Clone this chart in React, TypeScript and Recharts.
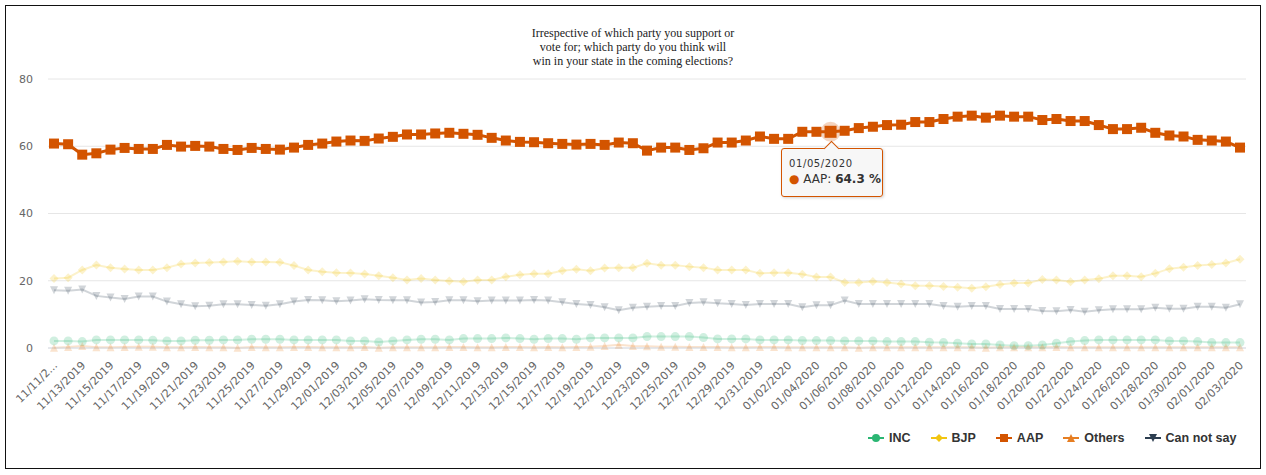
import { LineChart, Line, XAxis, YAxis, CartesianGrid, Tooltip } from "recharts";

const categories = [
  "11/11/2019", "11/12/2019", "11/13/2019", "11/14/2019", "11/15/2019", "11/16/2019", "11/17/2019",
  "11/18/2019", "11/19/2019", "11/20/2019", "11/21/2019", "11/22/2019", "11/23/2019", "11/24/2019",
  "11/25/2019", "11/26/2019", "11/27/2019", "11/28/2019", "11/29/2019", "11/30/2019",
  "12/01/2019", "12/02/2019", "12/03/2019", "12/04/2019", "12/05/2019", "12/06/2019", "12/07/2019",
  "12/08/2019", "12/09/2019", "12/10/2019", "12/11/2019", "12/12/2019", "12/13/2019", "12/14/2019",
  "12/15/2019", "12/16/2019", "12/17/2019", "12/18/2019", "12/19/2019", "12/20/2019", "12/21/2019",
  "12/22/2019", "12/23/2019", "12/24/2019", "12/25/2019", "12/26/2019", "12/27/2019", "12/28/2019",
  "12/29/2019", "12/30/2019", "12/31/2019",
  "01/01/2020", "01/02/2020", "01/03/2020", "01/04/2020", "01/05/2020", "01/06/2020", "01/07/2020",
  "01/08/2020", "01/09/2020", "01/10/2020", "01/11/2020", "01/12/2020", "01/13/2020", "01/14/2020",
  "01/15/2020", "01/16/2020", "01/17/2020", "01/18/2020", "01/19/2020", "01/20/2020", "01/21/2020",
  "01/22/2020", "01/23/2020", "01/24/2020", "01/25/2020", "01/26/2020", "01/27/2020", "01/28/2020",
  "01/29/2020", "01/30/2020", "01/31/2020",
  "02/01/2020", "02/02/2020", "02/03/2020",
];

const incValues = [
  2.1, 2.1, 1.9, 2.4, 2.4, 2.4, 2.4, 2.3, 2.1, 2.1,
  2.3, 2.3, 2.4, 2.4, 2.6, 2.6, 2.6, 2.4, 2.4, 2.4,
  2.4, 2.1, 2.1, 1.8, 2.1, 2.4, 2.6, 2.6, 2.4, 2.8,
  2.8, 2.8, 3.0, 2.8, 2.6, 2.8, 2.8, 2.6, 3.0, 3.0,
  3.0, 3.0, 3.4, 3.4, 3.4, 3.4, 3.1, 2.7, 2.7, 2.7,
  2.4, 2.4, 2.4, 2.2, 2.2, 2.2, 2.1, 2.1, 2.1, 1.9,
  1.9, 1.9, 1.7, 1.6, 1.4, 1.2, 1.2, 0.9, 0.7, 0.7,
  0.9, 1.4, 1.9, 2.2, 2.4, 2.4, 2.4, 2.4, 2.4, 2.1,
  2.1, 1.9, 1.6, 1.6, 1.6,
];

const bjpValues = [
  20.7, 20.9, 23.2, 24.7, 23.9, 23.5, 23.2, 23.2, 23.9, 25.0,
  25.3, 25.4, 25.6, 25.8, 25.6, 25.6, 25.5, 24.5, 23.2, 22.7,
  22.4, 22.3, 22.0, 21.5, 20.9, 20.2, 20.7, 20.2, 19.9, 19.7,
  20.2, 20.2, 21.2, 21.8, 22.1, 22.1, 23.0, 23.4, 23.0, 23.8,
  23.9, 23.9, 25.2, 24.6, 24.6, 24.2, 23.9, 23.2, 23.2, 23.2,
  22.2, 22.4, 22.4, 21.9, 21.1, 21.1, 19.5, 19.5, 19.8, 19.5,
  19.0, 18.5, 18.5, 18.3, 18.1, 17.8, 18.2, 18.9, 19.3, 19.3,
  20.4, 20.2, 19.7, 20.2, 20.6, 21.5, 21.5, 21.2, 22.2, 23.6,
  24.0, 24.5, 24.8, 25.3, 26.4,
];

const aapValues = [
  60.8, 60.6, 57.5, 57.9, 59.0, 59.5, 59.2, 59.2, 60.4, 59.9,
  60.1, 59.9, 59.2, 58.9, 59.5, 59.2, 59.0, 59.6, 60.4, 60.8,
  61.4, 61.7, 61.6, 62.3, 62.8, 63.5, 63.5, 63.8, 64.0, 63.7,
  63.4, 62.5, 61.7, 61.3, 61.2, 60.9, 60.7, 60.5, 60.7, 60.4,
  61.1, 60.9, 58.7, 59.6, 59.6, 58.9, 59.4, 61.1, 61.1, 61.7,
  62.9, 62.2, 62.2, 64.3, 64.3, 64.3, 64.6, 65.4, 65.8, 66.3,
  66.4, 67.2, 67.2, 68.1, 68.8, 69.1, 68.5, 69.1, 68.8, 68.8,
  67.8, 68.1, 67.5, 67.5, 66.3, 65.1, 65.1, 65.5, 64.0, 63.2,
  62.9, 61.9, 61.7, 61.4, 59.6,
];

const othersValues = [
  0.1, 0.3, 0.6, 0.2, 0.2, 0.3, 0.4, 0.4, 0.2, 0.2,
  0.3, 0.2, 0.2, 0.1, 0.3, 0.2, 0.2, 0.3, 0.3, 0.2,
  0.2, 0.2, 0.3, 0.1, 0.2, 0.2, 0.2, 0.2, 0.3, 0.3,
  0.2, 0.2, 0.3, 0.3, 0.2, 0.3, 0.2, 0.3, 0.4, 0.6,
  1.0, 0.6, 0.5, 0.4, 0.4, 0.3, 0.3, 0.3, 0.2, 0.2,
  0.3, 0.3, 0.2, 0.2, 0.2, 0.2, 0.2, 0.1, 0.2, 0.2,
  0.2, 0.2, 0.2, 0.2, 0.2, 0.2, 0.1, 0.2, 0.2, 0.2,
  0.2, 0.3, 0.2, 0.2, 0.2, 0.2, 0.2, 0.2, 0.2, 0.2,
  0.2, 0.2, 0.2, 0.2, 0.2,
];

const cantSayValues = [
  17.2, 17.0, 17.4, 15.5, 15.0, 14.6, 15.3, 15.3, 13.8, 13.0,
  12.4, 12.6, 13.0, 13.0, 12.8, 12.6, 13.0, 13.8, 14.3, 14.2,
  13.9, 14.1, 14.5, 14.3, 14.2, 14.2, 13.5, 13.7, 14.2, 14.2,
  13.9, 14.1, 14.1, 14.1, 14.3, 14.1, 13.6, 13.1, 12.8, 12.1,
  11.2, 12.0, 12.3, 12.5, 12.5, 13.4, 13.6, 13.3, 13.1, 12.8,
  13.1, 13.1, 13.1, 12.1, 12.7, 12.7, 14.1, 13.1, 13.1, 13.1,
  13.1, 13.1, 13.1, 12.5, 12.3, 12.5, 12.5, 11.6, 11.6, 11.6,
  11.0, 10.9, 11.3, 10.8, 11.2, 11.5, 11.5, 11.5, 12.0, 11.7,
  11.7, 12.3, 12.3, 12.0, 13.0,
];

const yTicks = [0, 20, 40, 60, 80];
const firstTickLabel = "11/11/2...";
const tooltipIndex = 55;

const COLORS = {
  INC: "#2bb673",
  BJP: "#f2c511",
  AAP: "#d35400",
  Others: "#e67e22",
  "Can not say": "#2c3e50",
};

const FADE = 0.22;
const FONT = "'DejaVu Sans', Verdana, sans-serif";

const data = categories.map((date, i) => ({
  date,
  INC: incValues[i],
  BJP: bjpValues[i],
  AAP: aapValues[i],
  Others: othersValues[i],
  "Can not say": cantSayValues[i],
}));

type Shape = "circle" | "diamond" | "square" | "triangle" | "triangle-down";

function marker(shape: Shape, cx: number, cy: number, color: string, s: number) {
  const h = s / 2;
  if (shape === "circle") return <circle cx={cx} cy={cy} r={h} fill={color} />;
  if (shape === "square")
    return <rect x={cx - h} y={cy - h} width={s} height={s} fill={color} />;
  if (shape === "diamond")
    return (
      <path
        d={`M${cx},${cy - h}L${cx + h},${cy}L${cx},${cy + h}L${cx - h},${cy}Z`}
        fill={color}
      />
    );
  if (shape === "triangle")
    return (
      <path d={`M${cx},${cy - h}L${cx + h},${cy + h}L${cx - h},${cy + h}Z`} fill={color} />
    );
  return (
    <path d={`M${cx - h},${cy - h}L${cx + h},${cy - h}L${cx},${cy + h}Z`} fill={color} />
  );
}

const makeDot = (name: string, shape: Shape, s: number, opacity: number) => (props: any) => {
  const { cx, cy, index } = props;
  if (cx == null || cy == null) return <g key={`${name}-${index}`} />;
  return (
    <g key={`${name}-${index}`} opacity={opacity}>
      {marker(shape, cx, cy, (COLORS as any)[name], s)}
    </g>
  );
};

const aapActiveDot = (props: any) => {
  const { cx, cy } = props;
  return (
    <g>
      <circle cx={cx} cy={cy} r={10} fill={COLORS.AAP} opacity={0.25} />
      <rect x={cx - 6} y={cy - 6} width={12} height={12} fill={COLORS.AAP} />
    </g>
  );
};

const XTick = (props: any) => {
  const { x, y, payload } = props;
  const label = payload.index === 0 ? firstTickLabel : payload.value;
  const tx = x + 4;
  const ty = y + 18;
  return (
    <text
      x={tx}
      y={ty}
      transform={`rotate(-45 ${tx} ${ty})`}
      textAnchor="end"
      fontSize={11}
      fill="#666"
      fontFamily={FONT}
    >
      {label}
    </text>
  );
};

const TooltipBox = (props: any) => {
  const { active, payload, label } = props;
  if (!active || !payload) return null;
  const item = payload.find((p: any) => p.dataKey === "AAP");
  if (!item) return null;
  return (
    <div style={{ position: "relative", paddingTop: 8 }}>
      <div
        style={{
          position: "relative",
          width: 85,
          background: "rgba(247,247,247,0.95)",
          border: `1px solid ${COLORS.AAP}`,
          borderRadius: 3,
          padding: "8px 8px 8px 7px",
          boxShadow: "1px 1px 3px rgba(0,0,0,0.18)",
          fontFamily: FONT,
          color: "#333",
        }}
      >
        <div
          style={{
            position: "absolute",
            top: -6,
            left: 44,
            width: 10,
            height: 10,
            transform: "rotate(45deg)",
            background: "rgb(247,247,247)",
            borderLeft: `1px solid ${COLORS.AAP}`,
            borderTop: `1px solid ${COLORS.AAP}`,
          }}
        />
        <div style={{ fontSize: 10, lineHeight: "14px", letterSpacing: 0.6 }}>{label}</div>
        <div style={{ fontSize: 12, lineHeight: "17px", whiteSpace: "nowrap" }}>
          <span style={{ color: COLORS.AAP }}>●</span> AAP: <b>{item.value} %</b>
        </div>
      </div>
    </div>
  );
};

const legendItems: { name: string; shape: Shape }[] = [
  { name: "INC", shape: "circle" },
  { name: "BJP", shape: "diamond" },
  { name: "AAP", shape: "square" },
  { name: "Others", shape: "triangle" },
  { name: "Can not say", shape: "triangle-down" },
];

function LegendRow() {
  return (
    <div
      style={{
        position: "absolute",
        left: 868,
        top: 430,
        width: 390,
        display: "flex",
        alignItems: "center",
        whiteSpace: "nowrap",
        fontFamily: "'Liberation Sans', Arial, sans-serif",
        fontWeight: "bold",
        fontSize: 12.5,
        color: "#333",
      }}
    >
      {legendItems.map((it) => (
        <div
          key={it.name}
          style={{ display: "flex", alignItems: "center", marginRight: 20, flexShrink: 0 }}
        >
          <svg width={16} height={16} style={{ marginRight: 5 }}>
            <line x1={0} y1={8} x2={16} y2={8} stroke={(COLORS as any)[it.name]} strokeWidth={2} />
            {marker(it.shape, 8, 8, (COLORS as any)[it.name], 8)}
          </svg>
          <span style={{ whiteSpace: "nowrap" }}>{it.name}</span>
        </div>
      ))}
    </div>
  );
}

export default function App() {
  return (
    <div style={{ position: "absolute", left: 0, top: 0, width: 1266, height: 475, background: "#fff" }}>
      <div
        style={{
          position: "absolute",
          left: 5,
          top: 5,
          width: 1256,
          height: 464,
          border: "1px solid #111",
          boxSizing: "border-box",
        }}
      />
      <div
        style={{
          position: "absolute",
          left: 433,
          top: 26,
          width: 400,
          textAlign: "center",
          fontFamily: "'Liberation Serif', 'Times New Roman', serif",
          fontSize: 12,
          lineHeight: "14px",
          color: "#222",
        }}
      >
        Irrespective of which party you support or
        <br />
        vote for; which party do you think will
        <br />
        win in your state in the coming elections?
      </div>
      <div style={{ position: "absolute", left: 0, top: 0 }}>
        <LineChart
          width={1266}
          height={475}
          data={data}
          margin={{ top: 79, right: 20, bottom: 37, left: 0 }}
        >
          <CartesianGrid vertical={false} stroke="#e6e6e6" />
          <XAxis
            dataKey="date"
            interval={1}
            padding={{ left: 6, right: 6 }}
            height={90}
            tickSize={0}
            tickMargin={0}
            tickLine={false}
            axisLine={{ stroke: "#d8dde6" }}
            tick={<XTick />}
          />
          <YAxis
            width={48}
            domain={[0, 80]}
            ticks={yTicks}
            tickSize={0}
            tickMargin={15}
            axisLine={false}
            tickLine={false}
            tick={{ fontSize: 11, fill: "#666", fontFamily: FONT }}
          />
          <Tooltip
            defaultIndex={tooltipIndex}
            cursor={false}
            isAnimationActive={false}
            position={{ x: 781, y: 140 }}
            content={<TooltipBox />}
          />
          <Line
            dataKey="INC"
            stroke={COLORS.INC}
            strokeWidth={2}
            strokeOpacity={FADE}
            dot={makeDot("INC", "circle", 9, FADE)}
            activeDot={false}
            isAnimationActive={false}
          />
          <Line
            dataKey="BJP"
            stroke={COLORS.BJP}
            strokeWidth={2}
            strokeOpacity={FADE}
            dot={makeDot("BJP", "diamond", 9, FADE)}
            activeDot={false}
            isAnimationActive={false}
          />
          <Line
            dataKey="Others"
            stroke={COLORS.Others}
            strokeWidth={2}
            strokeOpacity={FADE}
            dot={makeDot("Others", "triangle", 8, FADE)}
            activeDot={false}
            isAnimationActive={false}
          />
          <Line
            dataKey="Can not say"
            stroke={COLORS["Can not say"]}
            strokeWidth={2}
            strokeOpacity={FADE}
            dot={makeDot("Can not say", "triangle-down", 8, FADE)}
            activeDot={false}
            isAnimationActive={false}
          />
          <Line
            dataKey="AAP"
            stroke={COLORS.AAP}
            strokeWidth={3}
            dot={makeDot("AAP", "square", 10, 1)}
            activeDot={aapActiveDot}
            isAnimationActive={false}
          />
        </LineChart>
      </div>
      <LegendRow />
    </div>
  );
}
